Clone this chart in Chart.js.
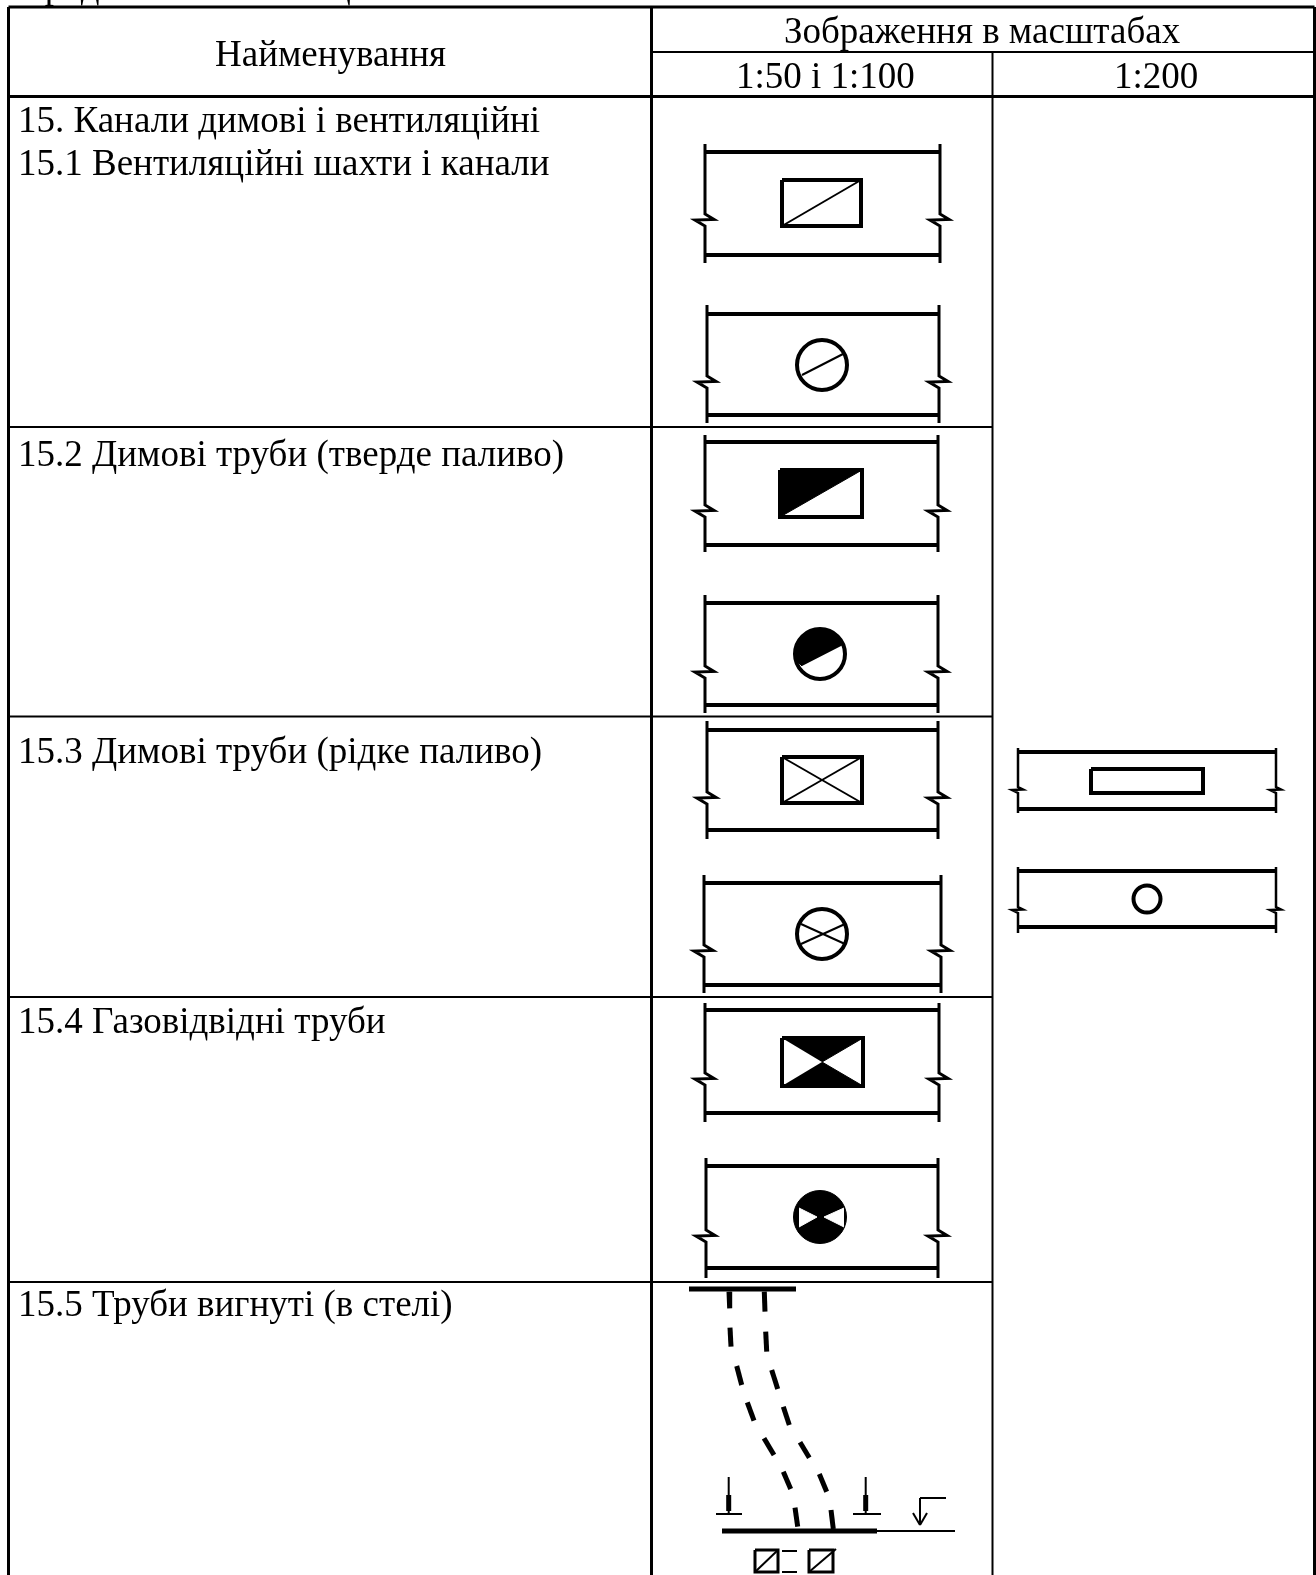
<!DOCTYPE html>
<html lang="uk">
<head>
<meta charset="utf-8">
<style>html,body{margin:0;padding:0;background:#fff}canvas{display:block}</style>
<script src="https://cdn.jsdelivr.net/npm/chart.js@4/dist/chart.umd.js"></script>
</head>
<body>
<canvas id="c" width="1316" height="1575"></canvas>
<script>
// Text of the table
const labels = ["Продовження таблиці","Найменування","Зображення в масштабах","1:50 і 1:100","1:200",
  "15. Канали димові і вентиляційні","15.1 Вентиляційні шахти і канали","15.2 Димові труби (тверде паливо)",
  "15.3 Димові труби (рідке паливо)","15.4 Газовідвідні труби","15.5 Труби вигнуті (в стелі)"];
const labelX = [18,215,784,736,1114,18,18,18,18,18,18];
const labelY = [-2,65.5,42.7,87.7,87.7,131.7,175,465.5,762.5,1033,1316];

// Ruled lines of the table [x1,y1,x2,y2]
const outerRules = [[8.5,7,1314.5,7],[8.5,7,8.5,1575],[1314.5,7,1314.5,1575],[8.5,96.5,1314.5,96.5],[651.5,7,651.5,1575]];
const innerRules = [[651.5,52,1314.5,52],[992.5,52,992.5,1575],[8.5,427,992.5,427],[8.5,716.5,992.5,716.5],[8.5,997,992.5,997],[8.5,1282,992.5,1282]];

// Wall symbols [left,right,top,bottom,stubTop,stubBottom,breakY]
const wallFrames = [[705,940,152,255,144,263,220],[707,939,314,415,305,423,382],[705,938,442,545,435,552,511],
  [705,938,603,705,595,713,672],[707,938,730,830,721,839,798],[704,941,883,985,875,993,951],
  [705,939,1010,1113,1003,1122,1079],[706,938,1166,1268,1158,1278,1236]];
const smallFrames = [[1018,1276,752,809,748,813,790],[1018,1276,871,927,867,933,910]];

// Channel rectangles [left,top,right,bottom]
const channelRects = [[782,180,861,226],[780,470,862,517],[782,757,862,803],[782,1038,863,1086],[1091,769,1203,793],[755,1550,778,1572],[809,1550,833,1572]];
const thinDiagonals = [[782,226,861,180],[782,757,862,803],[782,803,862,757],[802,375,843,354],[801,924,845,944],[801,944,845,924],[755,1572,778,1550],[809,1572,836,1549]];

// Round channels [x,y,radius]
const ringChannels = [[822,365,25],[820,654,25],[822,934,25],[1147,899,13.5]];
const discChannels = [[820,1217,26.5]];

// Filled shapes, flat lists of x,y
const blackShapes = [
  [780,470,862,470,780,517],
  [782,1038,863,1038,822,1062],
  [782,1086,863,1086,822,1062],
  [843,645,838,636,829,630,820,629,810,631,801,639,796,650,796,660,802,666]
];
const whiteShapes = [[799,1208,817,1217,799,1227],[844,1208,824,1217,844,1227]];

// Bent pipe dashes [x1,y1,x2,y2]
const leftDashes = [[729,1291.7,729.7,1308.3],[730,1327.7,731,1346.7],[736.7,1366,741.7,1385],[747.3,1402.3,754,1420.7],[764,1438.3,774,1455],[783.3,1471.7,790.7,1489],[795,1507.7,797.7,1526.7]];
const rightDashes = [[764.3,1291.7,765,1311.7],[765.7,1331.7,766.7,1351.7],[771.7,1370,777.7,1389],[783.3,1406.7,789.3,1425],[800,1442.3,809.3,1457.7],[819.3,1474,826.7,1491.7],[831,1510,833.3,1529]];
const heavyBars = [[689,1289,796,1289],[722,1531,877,1531]];
const thinMarks = [[877,1531,955,1531],[728.7,1477,728.7,1513],[716,1514,742,1514],[865.7,1477,865.7,1513],[853,1514,881,1514],
  [920,1498,946,1498],[920,1498,920,1524],[913,1513,920,1525],[920,1525,927,1513],[782,1551,797,1551],[782,1572,797,1572]];
const thickMarks = [[728.7,1495,728.7,1511],[865.7,1495,865.7,1511]];

// Build datasets in paint order
const sets = [];
const line = (pts,w,color='#000')=>sets.push({type:'scatter',showLine:true,data:pts,borderColor:color,borderWidth:w,pointRadius:0,tension:0,fill:false,clip:false,borderCapStyle:'butt',borderJoinStyle:'miter'});
const seg = ([a,b,c,d],w)=>line([{x:a,y:b},{x:c,y:d}],w);
const pairs = f=>{const p=[];for(let i=0;i<f.length;i+=2)p.push({x:f[i],y:f[i+1]});return p;};
const poly = (f,color)=>sets.push({type:'scatter',showLine:true,data:pairs(f),borderColor:color,backgroundColor:color,borderWidth:1,pointRadius:0,tension:0,fill:'shape',clip:false});
const dot = ([x,y,r],w,fillCol)=>sets.push({type:'scatter',showLine:false,data:[{x,y}],pointRadius:r,pointBorderColor:'#000',pointBorderWidth:w,pointBackgroundColor:fillCol,clip:false});

function frame([l,r,t,b,st,sb,z],hw,vw,a,c,d){
  seg([l,t,r,t],hw); seg([l,b,r,b],hw);
  [l,r].forEach(x=>line(pairs([x,st,x,z-a,x+c,z-0.5,x-d,z,x,z+a,x,sb]),vw));
}
outerRules.forEach(s=>seg(s,3));
innerRules.forEach(s=>seg(s,2));
wallFrames.forEach(f=>frame(f,4,3,6,9,10));
smallFrames.forEach(f=>frame(f,4,2.5,3,5,6));
channelRects.forEach((q,i)=>{const [a,b,c,d]=q;line(pairs([a,b,c,b,c,d,a,d,a,b]),i>4?3:4);});
thinDiagonals.forEach(s=>seg(s,2));
blackShapes.forEach(f=>poly(f,'#000'));
ringChannels.forEach(c=>dot(c,4,'rgba(0,0,0,0)'));
discChannels.forEach(c=>dot(c,1,'#000'));
whiteShapes.forEach(f=>poly(f,'#fff'));
leftDashes.concat(rightDashes).forEach(s=>seg(s,5));
heavyBars.forEach(s=>seg(s,5));
thinMarks.forEach(s=>seg(s,2));
thickMarks.forEach(s=>seg(s,5));

// Chart.js paints the first dataset last
sets.forEach((s,i)=>{s.order=sets.length-i;});

const tableText = {
  id:'tableText',
  afterDatasetsDraw(chart){
    const {ctx,scales:{x,y}}=chart;
    ctx.save();
    ctx.fillStyle='#000';
    ctx.font='37px "Liberation Serif"';
    ctx.textAlign='left';
    ctx.textBaseline='alphabetic';
    labels.forEach((t,i)=>ctx.fillText(t,x.getPixelForValue(labelX[i]),y.getPixelForValue(labelY[i])));
    ctx.restore();
  }
};

new Chart(document.getElementById('c'),{
  type:'scatter',
  data:{datasets:sets},
  options:{
    responsive:false,animation:false,events:[],
    layout:{padding:0,autoPadding:false},
    plugins:{legend:{display:false},tooltip:{enabled:false},title:{display:false}},
    scales:{
      x:{type:'linear',min:0,max:1316,display:false},
      y:{type:'linear',min:0,max:1575,reverse:true,display:false}
    }
  },
  plugins:[tableText]
});
</script>
</body>
</html>
